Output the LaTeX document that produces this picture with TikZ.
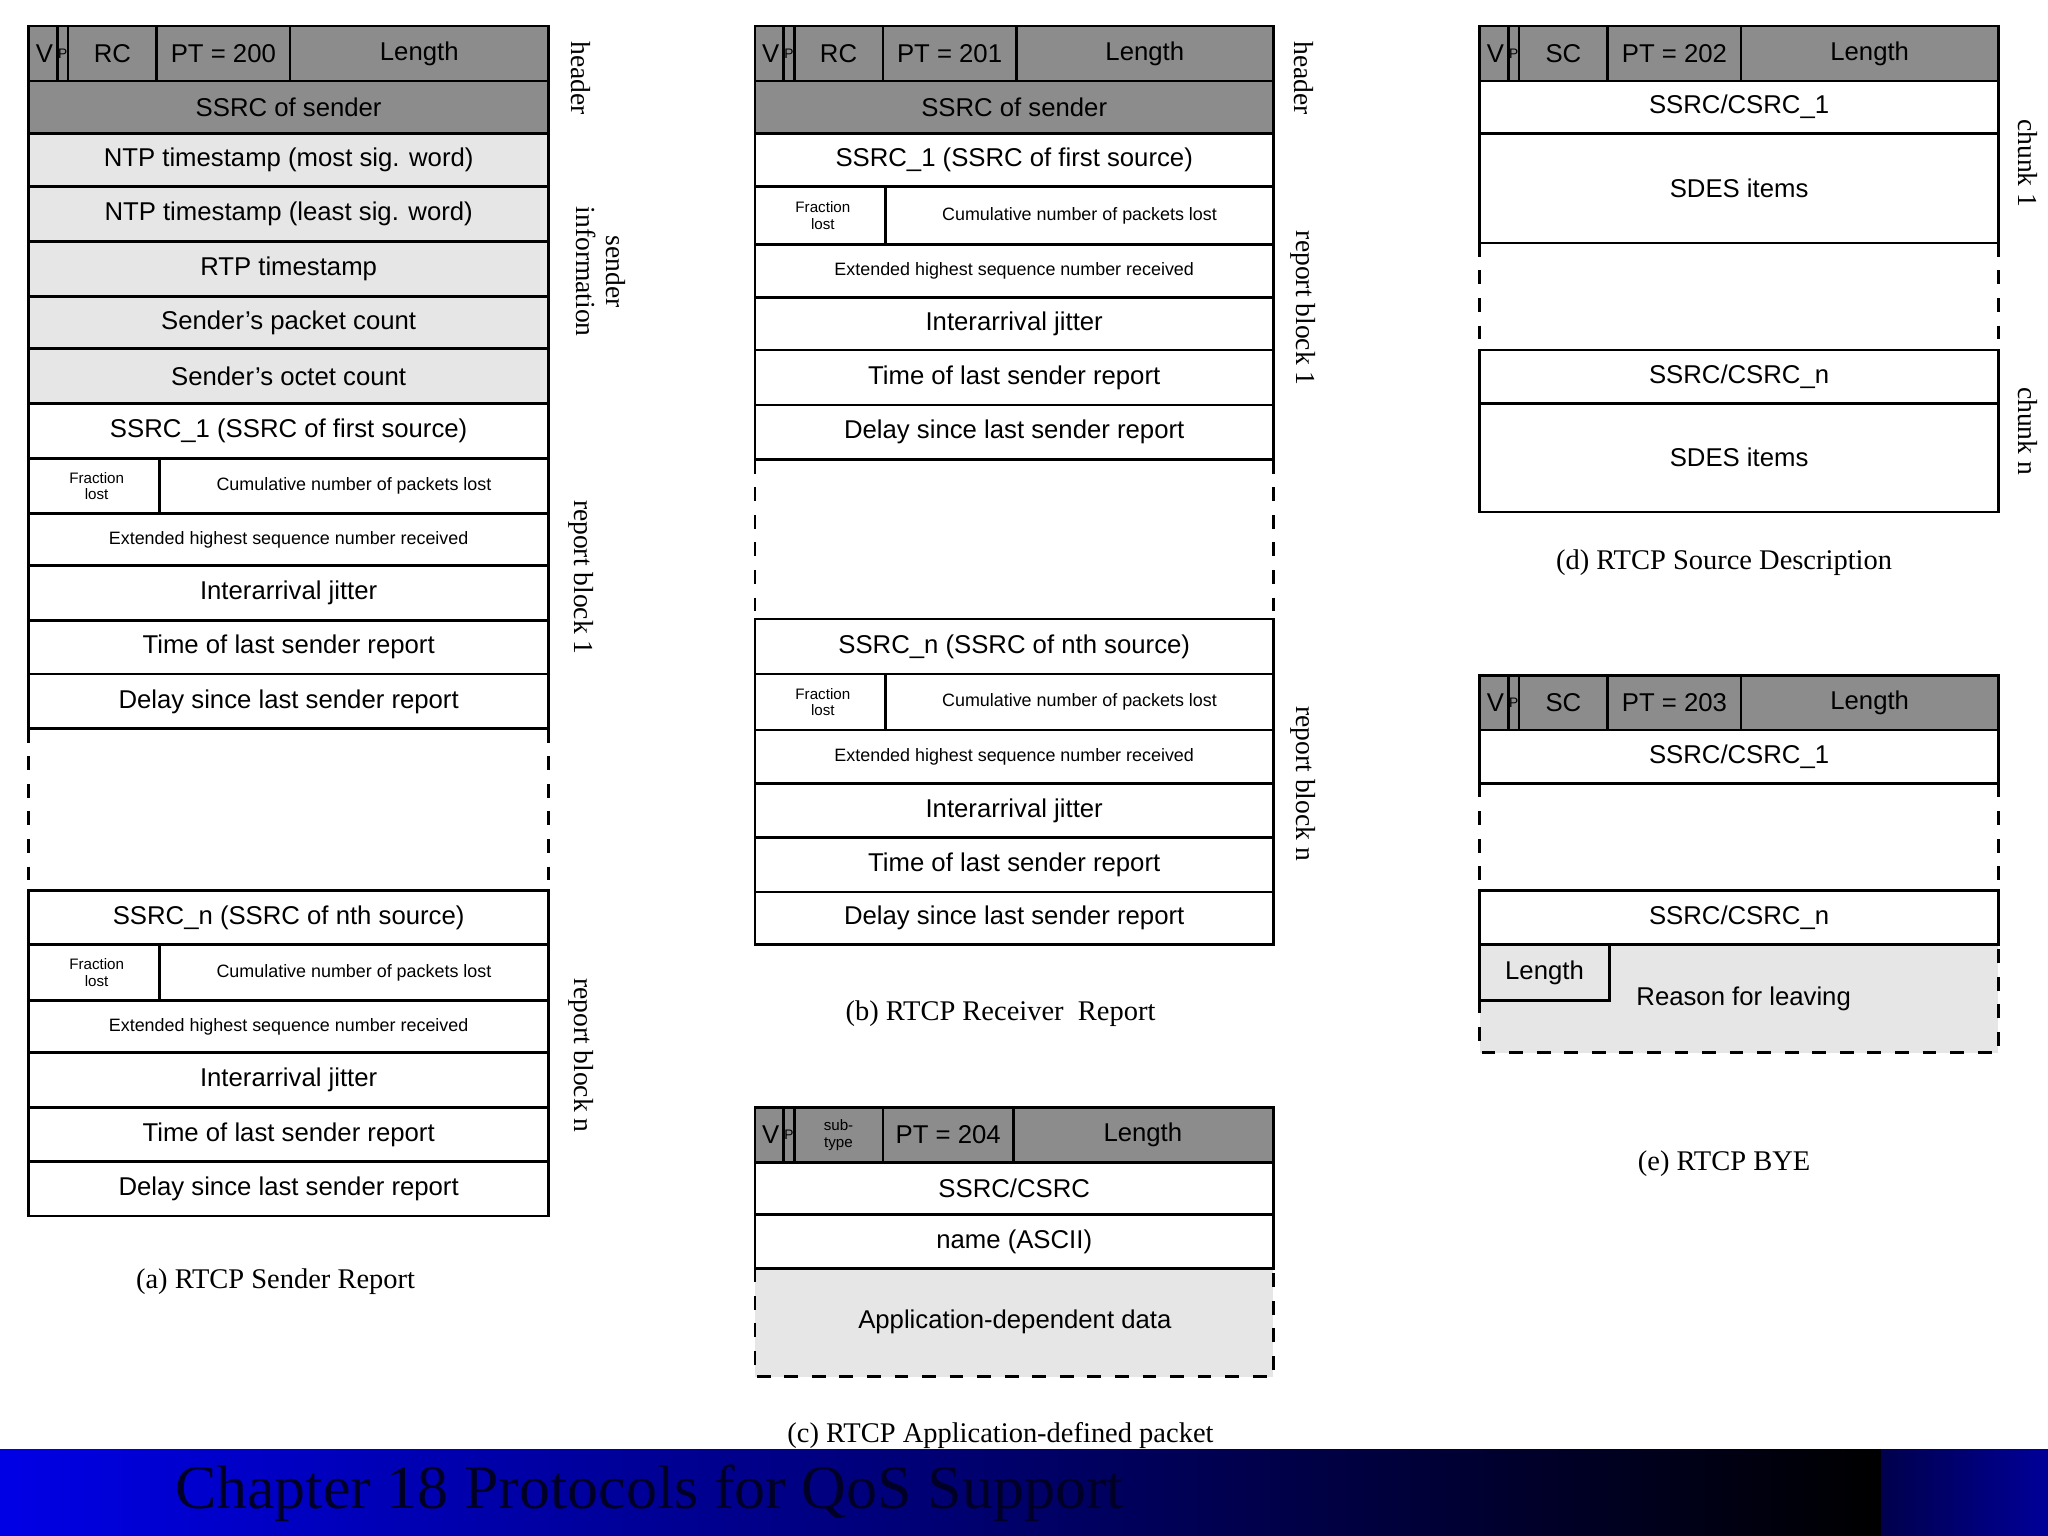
\documentclass[tikz,border=0pt]{standalone}
\usepackage{fontspec}
\setmainfont{Liberation Serif}
\setsansfont{Liberation Sans}
\begin{document}
\begin{tikzpicture}[x=0.01cm,y=-0.01cm,line width=0.6pt]
\definecolor{dk}{HTML}{8C8C8C}
\definecolor{lt}{HTML}{E6E6E6}
\tikzset{cellbox/.style={draw,fill=white},txt/.style={font=\sffamily\fontsize{5.6}{6}\selectfont,inner sep=0pt},
 smalltxt/.style={font=\sffamily\fontsize{3.9}{4.2}\selectfont,inner sep=0pt},
 tinytxt/.style={font=\sffamily\fontsize{3.3}{3.6}\selectfont,inner sep=0pt,align=center},
 side/.style={font=\fontsize{6}{6.5}\selectfont,rotate=-90,align=center,inner sep=0pt},
 captxt/.style={font=\fontsize{6.2}{7}\selectfont,inner sep=0pt}}
\useasboundingbox (0,0) rectangle (1568,1176);
\newcommand\cell[6]{\path[#5] (#1,#2) rectangle (#3,#4); \node[txt] at ({(#1+#3)/2},{(#2+#4)/2}) {#6};}
\newcommand\hdr[6]{% x1 y1 x2 y2 rc pt
 \path[draw,fill=dk] (#1,#2) rectangle (#3,#4);
 \draw (#1+22,#2)--(#1+22,#4) (#1+30,#2)--(#1+30,#4) (#1+98,#2)--(#1+98,#4) (#1+200,#2)--(#1+200,#4);
 \node[txt] at (#1+12,{(#2+#4)/2}) {V};
 \node[txt,font=\sffamily\fontsize{3}{3}\selectfont] at (#1+26,{(#2+#4)/2}) {P};
 \node[txt] at (#1+64,{(#2+#4)/2}) {#5};
 \node[txt] at (#1+149,{(#2+#4)/2}) {#6};
 \node[txt] at ({(#1+200+#3)/2},{(#2+#4)/2}) {Length};}
\newcommand\fracrow[4]{% x1 y1 x2 y2
 \path[draw,fill=white] (#1,#2) rectangle (#3,#4); \draw (#1+100,#2)--(#1+100,#4);
 \node[tinytxt] at (#1+52,{(#2+#4)/2}) {Fraction\\lost};
 \node[smalltxt] at ({(#1+100+#3)/2},{(#2+#4)/2}) {Cumulative number of packets lost};}
\newcommand\ext[4]{\path[draw,fill=white] (#1,#2) rectangle (#3,#4); \node[smalltxt] at ({(#1+#3)/2},{(#2+#4)/2}) {Extended highest sequence number received};}
\newcommand\gap[4]{\draw[dashed] (#1,#2)--(#1,#4) (#3,#2)--(#3,#4);}
% (a)
\hdr{22}{20}{420}{62}{RC}{PT = 200}
\cell{22}{62}{420}{102}{draw,fill=dk}{SSRC of sender}
\cell{22}{102}{420}{143}{draw,fill=lt}{NTP timestamp (most sig. word)}
\cell{22}{143}{420}{185}{draw,fill=lt}{NTP timestamp (least sig. word)}
\cell{22}{185}{420}{227}{draw,fill=lt}{RTP timestamp}
\cell{22}{227}{420}{267}{draw,fill=lt}{Sender's packet count}
\cell{22}{267}{420}{309}{draw,fill=lt}{Sender's octet count}
\cell{22}{309}{420}{351}{cellbox}{SSRC\_1 (SSRC of first source)}
\fracrow{22}{351}{420}{393}
\ext{22}{393}{420}{433}
\cell{22}{433}{420}{475}{cellbox}{Interarrival jitter}
\cell{22}{475}{420}{516}{cellbox}{Time of last sender report}
\cell{22}{516}{420}{558}{cellbox}{Delay since last sender report}
\gap{22}{558}{420}{682}
\cell{22}{682}{420}{723}{cellbox}{SSRC\_n (SSRC of nth source)}
\fracrow{22}{723}{420}{766}
\ext{22}{766}{420}{806}
\cell{22}{806}{420}{848}{cellbox}{Interarrival jitter}
\cell{22}{848}{420}{889}{cellbox}{Time of last sender report}
\cell{22}{889}{420}{931}{cellbox}{Delay since last sender report}
\node[side] at (445,60) {header};
\node[side] at (460,208) {sender\\information};
\node[side] at (445,442) {report block 1};
\node[side] at (445,808) {report block n};
\node[captxt] at (211,981) {(a) RTCP Sender Report};
% (b)
\hdr{578}{20}{975}{62}{RC}{PT = 201}
\cell{578}{62}{975}{102}{draw,fill=dk}{SSRC of sender}
\cell{578}{102}{975}{143}{cellbox}{SSRC\_1 (SSRC of first source)}
\fracrow{578}{143}{975}{187}
\ext{578}{187}{975}{228}
\cell{578}{228}{975}{268}{cellbox}{Interarrival jitter}
\cell{578}{268}{975}{310}{cellbox}{Time of last sender report}
\cell{578}{310}{975}{352}{cellbox}{Delay since last sender report}
\gap{578}{352}{975}{474}
\cell{578}{474}{975}{516}{cellbox}{SSRC\_n (SSRC of nth source)}
\fracrow{578}{516}{975}{559}
\ext{578}{559}{975}{600}
\cell{578}{600}{975}{641}{cellbox}{Interarrival jitter}
\cell{578}{641}{975}{683}{cellbox}{Time of last sender report}
\cell{578}{683}{975}{723}{cellbox}{Delay since last sender report}
\node[side] at (998,60) {header};
\node[side] at (998,236) {report block 1};
\node[side] at (998,600) {report block n};
\node[captxt] at (766,776) {(b) RTCP Receiver\ \ Report};
% (c)
\path[draw,fill=dk] (578,848) rectangle (975,890);
\draw (600,848)--(600,890) (608,848)--(608,890) (676,848)--(676,890) (776,848)--(776,890);
\node[txt] at (590,869) {V};
\node[txt,font=\sffamily\fontsize{3}{3}\selectfont] at (604,869) {P};
\node[tinytxt] at (642,869) {sub-\\type};
\node[txt] at (726,869) {PT = 204};
\node[txt] at (875,869) {Length};
\cell{578}{890}{975}{930}{cellbox}{SSRC/CSRC}
\cell{578}{930}{975}{971}{cellbox}{name (ASCII)}
\path[fill=lt] (578,971) rectangle (975,1054);
\draw (578,971)--(975,971);
\draw[dashed] (578,971)--(578,1054)--(975,1054)--(975,971);
\node[txt] at (777,1012) {Application-dependent data};
\node[captxt] at (766,1099) {(c) RTCP Application-defined packet};
% (d)
\hdr{1133}{20}{1530}{62}{SC}{PT = 202}
\cell{1133}{62}{1530}{102}{cellbox}{SSRC/CSRC\_1}
\cell{1133}{102}{1530}{186}{cellbox}{SDES items}
\gap{1133}{186}{1530}{268}
\cell{1133}{268}{1530}{309}{cellbox}{SSRC/CSRC\_n}
\cell{1133}{309}{1530}{392}{cellbox}{SDES items}
\node[side] at (1553,125) {chunk 1};
\node[side] at (1553,330) {chunk n};
\node[captxt] at (1320,431) {(d) RTCP Source Description};
% (e)
\hdr{1133}{517}{1530}{559}{SC}{PT = 203}
\cell{1133}{559}{1530}{600}{cellbox}{SSRC/CSRC\_1}
\gap{1133}{600}{1530}{682}
\cell{1133}{682}{1530}{723}{cellbox}{SSRC/CSRC\_n}
\path[fill=lt] (1133,723) rectangle (1530,806);
\draw[dashed] (1133,723)--(1133,806)--(1530,806)--(1530,723);
\draw (1133,723)--(1530,723);
\cell{1133}{723}{1232}{766}{draw,fill=lt}{Length}
\node[txt] at (1335,765) {Reason for leaving};
\node[captxt] at (1320,891) {(e) RTCP BYE};
% footer
\shade[left color=blue!90!black,right color=black] (0,1110) rectangle (1440,1176);
\shade[left color=blue!30!black,right color=blue!60!black] (1440,1110) rectangle (1568,1176);
\node[anchor=west,inner sep=0pt,font=\fontsize{13.5}{14}\selectfont,text=black!85!blue] at (133,1143) {Chapter 18 Protocols for QoS Support};
\end{tikzpicture}
\end{document}
